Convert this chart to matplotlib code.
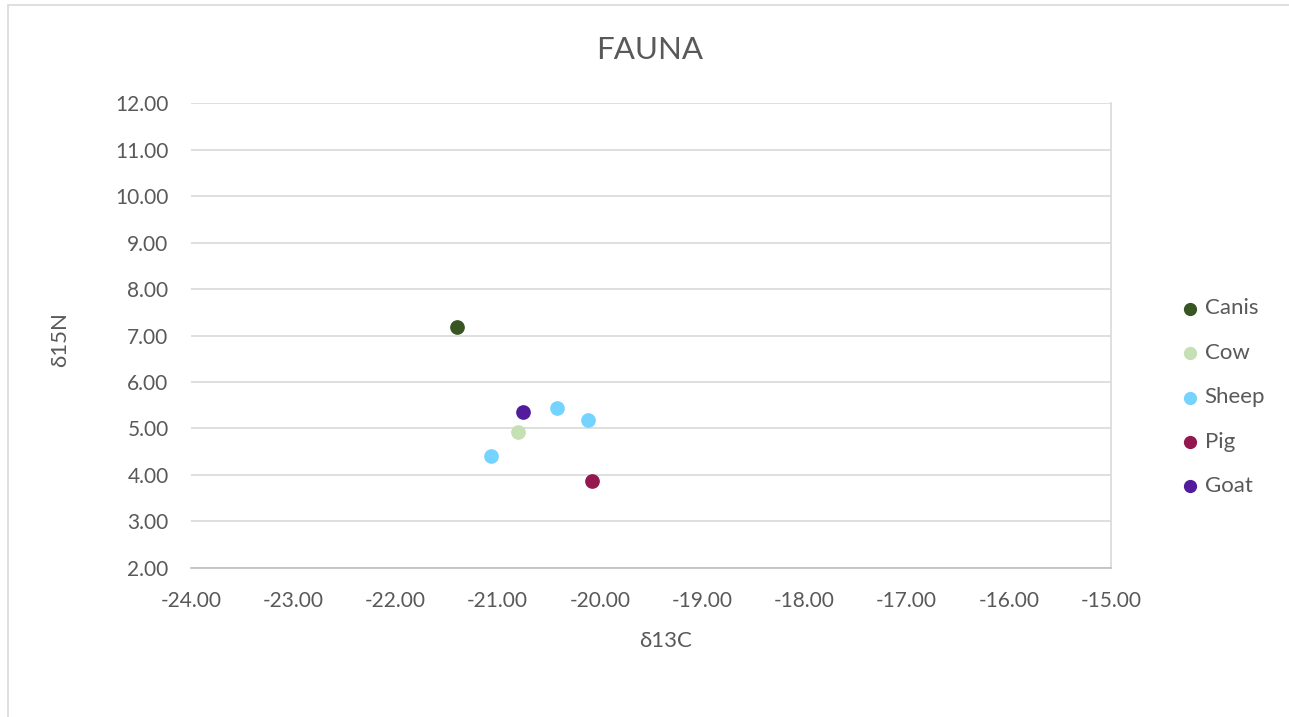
import matplotlib.pyplot as plt
from matplotlib.patches import Rectangle

plt.rcParams['font.family'] = ['Lato', 'DejaVu Sans']

# isotope values per taxon (d13C, d15N)
species = ['Canis', 'Cow', 'Sheep', 'Pig', 'Goat']
d13c = {
    'Canis': [-21.40],
    'Cow': [-20.80],
    'Sheep': [-21.06, -20.42, -20.12],
    'Pig': [-20.08],
    'Goat': [-20.75],
}
d15n = {
    'Canis': [7.19],
    'Cow': [4.92],
    'Sheep': [4.41, 5.45, 5.19],
    'Pig': [3.86],
    'Goat': [5.36],
}
colors = {
    'Canis': '#375623',
    'Cow': '#C5E0B4',
    'Sheep': '#75D4FF',
    'Pig': '#95174F',
    'Goat': '#531C9C',
}

xticks = [-24, -23, -22, -21, -20, -19, -18, -17, -16, -15]
yticks = [2, 3, 4, 5, 6, 7, 8, 9, 10, 11, 12]

text_col = '#595959'
grid_col = '#D9D9D9'
W, H = 1289, 717

fig = plt.figure(figsize=(W / 100, H / 100), dpi=100)
ax = fig.add_axes([0.148, 0.208, 0.714, 0.648])

# chart border (open on the right and bottom)
fig.patches.append(Rectangle((8 / W, -0.05), 1.2, 1.05 - 5 / H,
                             transform=fig.transFigure, fill=False,
                             edgecolor=grid_col, linewidth=1.2))

for sp in species:
    ax.scatter(d13c[sp], d15n[sp], s=112, color=colors[sp], label=sp,
               zorder=3, linewidths=0)

ax.set_xlim(-24, -15)
ax.set_ylim(2, 12)
ax.set_xticks(xticks)
ax.set_yticks(yticks)
ax.set_xticklabels(['%.2f' % v for v in xticks])
ax.set_yticklabels(['%.2f' % v for v in yticks])
ax.tick_params(length=0, colors=text_col, labelsize=15)
ax.tick_params(axis='x', pad=17)
ax.tick_params(axis='y', pad=16)

ax.grid(axis='y', color=grid_col, linewidth=1.2, zorder=0)
ax.set_axisbelow(True)
for side in ['top', 'left']:
    ax.spines[side].set_visible(False)
ax.spines['bottom'].set_color('#BFBFBF')
ax.spines['bottom'].set_linewidth(1.2)
ax.spines['right'].set_color(grid_col)
ax.spines['right'].set_linewidth(1.2)

fig.text(666 / W, 1 - 641 / H, 'δ13C', fontsize=16, color=text_col,
         ha='center', va='center')
fig.text(60 / W, 1 - 340 / H, 'δ15N', fontsize=16, color=text_col,
         ha='center', va='center', rotation=90)
fig.text(650 / W, 1 - 50 / H, 'FAUNA', fontsize=22.5, color=text_col,
         ha='center', va='center')

leg = ax.legend(loc='center left', bbox_to_anchor=(1.074, 0.367), frameon=False,
                fontsize=16, labelspacing=1.1, handlelength=1.0,
                handletextpad=0.15, markerscale=0.9, labelcolor=text_col,
                borderpad=0, borderaxespad=0)

fig.savefig('out.png', dpi=100)
